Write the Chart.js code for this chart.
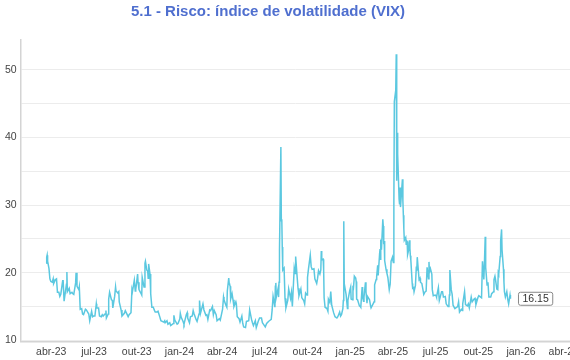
<!DOCTYPE html>
<html>
<head>
<meta charset="utf-8">
<script src="https://cdn.jsdelivr.net/npm/chart.js@4"></script>
<style>
  html, body { margin: 0; padding: 0; background: #fff; }
  #wrap { width: 570px; height: 360px; }
</style>
</head>
<body>
<div id="wrap"><canvas id="vixChart"></canvas></div>
<script>
// VIX closes (a few per week)
const dates = [
  '2023-03-21','2023-03-22','2023-03-23','2023-03-24','2023-03-27','2023-03-29','2023-03-31',
  '2023-04-03','2023-04-05','2023-04-06','2023-04-10','2023-04-12','2023-04-14','2023-04-17','2023-04-19','2023-04-21','2023-04-25','2023-04-26','2023-04-28',
  '2023-05-02','2023-05-03','2023-05-04','2023-05-05','2023-05-09','2023-05-11','2023-05-15','2023-05-17','2023-05-19','2023-05-23','2023-05-24','2023-05-26','2023-05-30','2023-05-31',
  '2023-06-02','2023-06-05','2023-06-07','2023-06-09','2023-06-13','2023-06-15','2023-06-20','2023-06-22','2023-06-26','2023-06-28','2023-06-30',
  '2023-07-03','2023-07-06','2023-07-07','2023-07-11','2023-07-13','2023-07-17','2023-07-19','2023-07-21','2023-07-25','2023-07-27','2023-07-28',
  '2023-08-01','2023-08-02','2023-08-04','2023-08-08','2023-08-10','2023-08-11','2023-08-15','2023-08-17','2023-08-18','2023-08-22','2023-08-24','2023-08-25','2023-08-29','2023-08-31',
  '2023-09-05','2023-09-07','2023-09-11','2023-09-13','2023-09-15','2023-09-19','2023-09-21','2023-09-22','2023-09-26','2023-09-28','2023-09-29',
  '2023-10-03','2023-10-04','2023-10-06','2023-10-10','2023-10-12','2023-10-13','2023-10-17','2023-10-19','2023-10-20','2023-10-23','2023-10-25','2023-10-26','2023-10-27','2023-10-30','2023-10-31',
  '2023-11-01','2023-11-03','2023-11-06','2023-11-08','2023-11-10','2023-11-14','2023-11-16','2023-11-20','2023-11-22','2023-11-28','2023-11-30',
  '2023-12-01','2023-12-05','2023-12-07','2023-12-11','2023-12-13','2023-12-15','2023-12-19','2023-12-20','2023-12-22','2023-12-27','2023-12-29',
  '2024-01-02','2024-01-03','2024-01-05','2024-01-09','2024-01-11','2024-01-16','2024-01-18','2024-01-19','2024-01-23','2024-01-25','2024-01-29','2024-01-31',
  '2024-02-02','2024-02-06','2024-02-08','2024-02-12','2024-02-13','2024-02-15','2024-02-20','2024-02-22','2024-02-26','2024-02-28',
  '2024-03-01','2024-03-05','2024-03-07','2024-03-11','2024-03-13','2024-03-15','2024-03-19','2024-03-21','2024-03-26','2024-03-28',
  '2024-04-02','2024-04-04','2024-04-05','2024-04-09','2024-04-11','2024-04-12','2024-04-15','2024-04-16','2024-04-17','2024-04-18','2024-04-19','2024-04-22','2024-04-24','2024-04-26','2024-04-30',
  '2024-05-01','2024-05-03','2024-05-07','2024-05-09','2024-05-13','2024-05-15','2024-05-17','2024-05-21','2024-05-23','2024-05-28','2024-05-30',
  '2024-06-03','2024-06-05','2024-06-07','2024-06-11','2024-06-13','2024-06-17','2024-06-20','2024-06-24','2024-06-26','2024-06-28',
  '2024-07-02','2024-07-05','2024-07-09','2024-07-11','2024-07-15','2024-07-17','2024-07-19','2024-07-23','2024-07-24','2024-07-25','2024-07-26','2024-07-30','2024-07-31',
  '2024-08-01','2024-08-02','2024-08-05','2024-08-06','2024-08-07','2024-08-08','2024-08-09','2024-08-12','2024-08-14','2024-08-16','2024-08-20','2024-08-22','2024-08-26','2024-08-28','2024-08-30',
  '2024-09-03','2024-09-05','2024-09-06','2024-09-09','2024-09-11','2024-09-13','2024-09-17','2024-09-19','2024-09-23','2024-09-25','2024-09-27','2024-09-30',
  '2024-10-01','2024-10-03','2024-10-07','2024-10-09','2024-10-11','2024-10-15','2024-10-17','2024-10-21','2024-10-23','2024-10-25','2024-10-28','2024-10-30','2024-10-31',
  '2024-11-01','2024-11-04','2024-11-05','2024-11-06','2024-11-08','2024-11-12','2024-11-14','2024-11-15','2024-11-18','2024-11-20','2024-11-22','2024-11-26','2024-11-29',
  '2024-12-03','2024-12-05','2024-12-09','2024-12-11','2024-12-13','2024-12-16','2024-12-17','2024-12-18','2024-12-19','2024-12-20','2024-12-23','2024-12-26','2024-12-27','2024-12-31',
  '2025-01-02','2025-01-03','2025-01-06','2025-01-07','2025-01-08','2025-01-10','2025-01-13','2025-01-14','2025-01-15','2025-01-17','2025-01-21','2025-01-23','2025-01-24','2025-01-27','2025-01-28','2025-01-30','2025-01-31',
  '2025-02-03','2025-02-04','2025-02-06','2025-02-07','2025-02-11','2025-02-13','2025-02-14','2025-02-18','2025-02-20','2025-02-21','2025-02-24','2025-02-25','2025-02-27','2025-02-28',
  '2025-03-03','2025-03-04','2025-03-05','2025-03-06','2025-03-07','2025-03-10','2025-03-11','2025-03-12','2025-03-13','2025-03-14','2025-03-17','2025-03-19','2025-03-21','2025-03-24','2025-03-26','2025-03-28','2025-03-31',
  '2025-04-01','2025-04-02','2025-04-03','2025-04-04','2025-04-07','2025-04-08','2025-04-09','2025-04-10','2025-04-11','2025-04-14','2025-04-15','2025-04-16','2025-04-17','2025-04-21','2025-04-22','2025-04-23','2025-04-24','2025-04-25','2025-04-28','2025-04-29','2025-04-30',
  '2025-05-01','2025-05-02','2025-05-05','2025-05-06','2025-05-07','2025-05-08','2025-05-09','2025-05-12','2025-05-13','2025-05-15','2025-05-16','2025-05-19','2025-05-21','2025-05-22','2025-05-23','2025-05-27','2025-05-29','2025-05-30',
  '2025-06-02','2025-06-04','2025-06-06','2025-06-09','2025-06-11','2025-06-13','2025-06-16','2025-06-17','2025-06-18','2025-06-20','2025-06-23','2025-06-24','2025-06-26','2025-06-30',
  '2025-07-02','2025-07-03','2025-07-07','2025-07-09','2025-07-11','2025-07-14','2025-07-16','2025-07-18','2025-07-22','2025-07-24','2025-07-28','2025-07-30','2025-07-31',
  '2025-08-01','2025-08-04','2025-08-06','2025-08-08','2025-08-12','2025-08-14','2025-08-18','2025-08-20','2025-08-22','2025-08-26','2025-08-28','2025-08-29',
  '2025-09-02','2025-09-04','2025-09-08','2025-09-10','2025-09-12','2025-09-16','2025-09-18','2025-09-22','2025-09-24','2025-09-26','2025-09-30',
  '2025-10-02','2025-10-06','2025-10-08','2025-10-10','2025-10-13','2025-10-14','2025-10-16','2025-10-17','2025-10-20','2025-10-22','2025-10-24','2025-10-28','2025-10-30',
  '2025-11-03','2025-11-04','2025-11-06','2025-11-07','2025-11-10','2025-11-12','2025-11-13','2025-11-14','2025-11-17','2025-11-18','2025-11-20','2025-11-21','2025-11-24','2025-11-25','2025-11-26','2025-11-28',
  '2025-12-01','2025-12-03','2025-12-05','2025-12-08','2025-12-09'
];
const vix = [
  21.4,22.3,22.6,21.7,20.6,19.1,18.7,
  18.6,19.1,18.4,19.0,19.1,17.1,17.1,16.5,16.8,18.8,18.8,15.8,
  17.8,18.3,20.1,17.2,17.7,16.9,17.1,16.9,16.8,18.5,20.0,18.0,17.5,17.9,
  14.6,14.7,13.9,13.8,14.6,14.5,13.9,12.9,14.3,13.5,13.6,
  13.6,15.4,14.8,14.8,13.6,13.5,13.8,13.6,13.9,14.4,13.3,
  13.9,16.1,17.1,16.0,15.9,14.8,16.5,17.9,17.3,17.0,17.2,15.7,14.5,13.6,
  14.0,14.4,13.8,13.5,13.8,14.1,17.5,17.2,18.9,17.3,17.5,
  19.8,18.6,17.5,17.0,16.7,19.3,17.9,21.4,21.7,20.4,20.2,19.2,21.3,19.8,18.1,
  16.9,14.9,14.9,14.5,14.2,14.2,14.3,13.4,12.9,12.7,12.9,
  12.6,12.9,12.4,12.6,12.2,12.3,12.5,13.7,13.0,12.4,12.5,
  13.2,14.0,13.4,12.8,12.4,13.8,14.1,13.3,12.6,13.5,13.6,14.4,
  13.9,13.1,12.8,13.9,15.9,14.0,15.4,14.5,13.7,13.8,
  13.1,14.5,14.4,15.0,13.8,14.4,13.8,12.9,13.2,13.0,
  14.6,16.4,16.0,15.2,14.9,17.3,19.2,18.4,18.2,18.0,16.1,16.9,16.0,15.0,15.7,
  15.4,13.5,13.2,12.7,13.6,12.5,12.0,11.9,12.8,12.9,14.5,
  13.1,12.6,12.2,12.9,11.9,12.8,13.3,13.3,12.6,12.4,
  12.0,12.5,12.8,12.9,13.1,14.5,16.5,14.9,18.0,18.5,16.4,17.7,16.4,
  18.6,23.4,38.6,27.7,27.9,23.8,20.4,20.7,16.2,14.8,15.9,17.6,16.2,17.1,15.0,
  20.7,19.9,22.4,19.5,17.7,16.6,17.6,16.3,15.9,15.4,17.0,16.7,
  19.3,20.5,22.6,20.9,20.5,20.6,19.1,18.4,19.2,20.3,19.8,20.4,23.2,
  21.9,22.0,20.5,16.3,14.9,14.7,14.3,16.1,15.6,17.2,15.2,14.1,13.5,
  13.3,13.5,14.2,13.6,13.8,14.7,15.9,27.6,18.4,18.4,16.8,14.7,15.9,17.4,
  17.9,16.1,16.0,17.8,17.7,19.5,19.2,18.7,16.1,16.0,15.1,15.0,14.9,17.9,16.4,15.8,16.4,
  18.6,17.2,15.5,16.5,16.0,15.1,14.8,15.4,15.7,18.2,19.0,19.4,21.1,19.6,
  22.8,23.5,21.9,24.9,23.4,27.9,26.9,24.2,24.7,21.8,20.5,19.9,19.3,17.5,18.3,21.7,22.3,
  21.8,21.5,30.0,45.3,47.0,52.3,33.6,40.7,37.6,30.9,30.1,32.6,29.7,33.8,30.6,28.5,26.5,24.8,25.2,24.2,24.7,
  24.6,22.7,23.6,24.8,23.6,22.5,21.9,18.4,17.7,17.8,17.2,18.1,20.9,20.3,22.3,19.0,19.2,18.6,
  18.4,17.6,16.8,17.2,17.3,20.8,19.1,21.6,20.1,20.6,19.8,17.5,16.6,16.7,
  16.6,16.4,17.8,15.9,16.4,17.2,17.2,16.4,16.5,15.4,15.0,15.5,16.7,
  20.4,17.5,16.8,15.2,14.7,14.8,15.0,15.7,14.2,14.6,14.4,15.4,
  17.2,15.3,15.1,15.4,14.8,16.4,15.7,16.1,16.2,15.3,16.3,
  16.6,16.4,16.3,21.7,19.0,20.8,25.3,20.8,18.2,18.6,16.4,16.4,16.9,
  17.2,19.0,19.5,19.1,17.6,17.5,20.0,19.8,22.4,24.7,26.4,23.4,20.5,18.6,17.2,16.4,
  17.2,16.1,15.4,16.7,16.15
];

// axis labels
const monthNames = ['jan','fev','mar','abr','mai','jun','jul','ago','set','out','nov','dez'];
const yTickLabels = [10, 20, 30, 40, 50];

// months counted from jan-2023
function monthIndex(s) {
  const [y, m, d] = s.split('-').map(Number);
  const days = new Date(y, m, 0).getDate();
  return (y - 2023) * 12 + (m - 1) + (d - 1) / days;
}

const points = dates.map((d, i) => ({ x: monthIndex(d), y: vix[i] }));

const titlePlugin = {
  id: 'titleText',
  afterDraw(chart) {
    const ctx = chart.ctx;
    ctx.save();
    ctx.font = 'bold 15px "Liberation Sans", Arial, sans-serif';
    ctx.fillStyle = '#4f6fcf';
    ctx.textAlign = 'center';
    ctx.textBaseline = 'middle';
    ctx.fillText('5.1 - Risco: índice de volatilidade (VIX)', 268, 12);
    ctx.restore();
  }
};

const lastLabel = {
  id: 'lastLabel',
  afterDatasetsDraw(chart) {
    const meta = chart.getDatasetMeta(0);
    const pt = meta.data[meta.data.length - 1];
    const ctx = chart.ctx;
    const txt = vix[vix.length - 1].toFixed(2);
    ctx.save();
    ctx.font = '10.5px "Liberation Sans", Arial, sans-serif';
    const w = ctx.measureText(txt).width + 8;
    const h = 13;
    const x0 = pt.x + 8, y0 = pt.y - h / 2;
    ctx.beginPath();
    ctx.roundRect(x0, y0, w, h, 2);
    ctx.fillStyle = '#fff';
    ctx.fill();
    ctx.strokeStyle = '#888';
    ctx.lineWidth = 1;
    ctx.stroke();
    ctx.fillStyle = '#333';
    ctx.textAlign = 'center';
    ctx.textBaseline = 'middle';
    ctx.fillText(txt, x0 + w / 2, pt.y + 0.5);
    ctx.restore();
  }
};

const ctx = document.getElementById('vixChart').getContext('2d');
new Chart(ctx, {
  type: 'line',
  data: {
    datasets: [{
      label: 'VIX',
      data: points,
      borderColor: '#5bc8e0',
      borderWidth: 1.5,
      pointRadius: 0,
      tension: 0,
      fill: false
    }]
  },
  options: {
    responsive: true,
    maintainAspectRatio: false,
    animation: false,
    layout: { padding: { top: 40, left: 1, right: 0, bottom: -2 } },
    plugins: {
      legend: { display: false },
      title: { display: false },
      tooltip: { enabled: false }
    },
    scales: {
      x: {
        type: 'linear',
        min: 0.85,
        max: 39.44,
        grid: { display: false, drawTicks: false },
        border: { display: true, color: '#d4d4d4', width: 1.5 },
        ticks: {
          stepSize: 3,
          includeBounds: false,
          autoSkip: false,
          maxRotation: 0,
          padding: 4,
          color: '#444',
          font: { family: '"Liberation Sans", Arial, sans-serif', size: 10.5 },
          callback: v => monthNames[v % 12] + '-' + String(23 + Math.floor(v / 12))
        },
        afterFit: scale => { scale.paddingRight = 0; scale.paddingLeft = 0; }
      },
      y: {
        min: 9.85,
        max: 54.4,
        grid: { color: '#ececec', lineWidth: 1, drawTicks: false },
        border: { display: true, color: '#d4d4d4', width: 1.5 },
        ticks: {
          stepSize: 5,
          includeBounds: false,
          padding: 4,
          color: '#444',
          font: { family: '"Liberation Sans", Arial, sans-serif', size: 10.5 },
          callback: v => yTickLabels.includes(v) ? String(v) : ''
        }
      }
    }
  },
  plugins: [titlePlugin, lastLabel]
});
</script>
</body>
</html>
